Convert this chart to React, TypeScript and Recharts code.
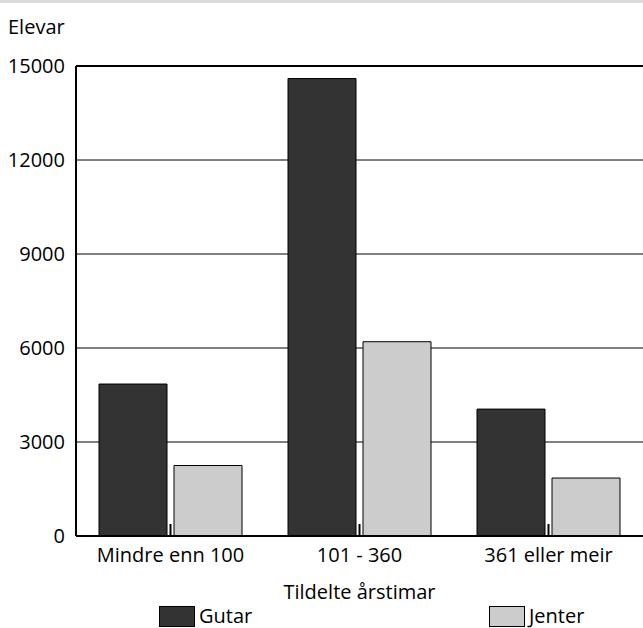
import React from 'react';
import { BarChart, Bar, XAxis, YAxis, CartesianGrid, ReferenceLine } from 'recharts';

const categories = ['Mindre enn 100', '101 - 360', '361 eller meir'];
const gutar = [4850, 14600, 4050];
const jenter = [2250, 6200, 1850];
const yTicks = [0, 3000, 6000, 9000, 12000, 15000];
const seriesNames = ['Gutar', 'Jenter'];
const seriesColors = ['#333333', '#cccccc'];
const yTitle = 'Elevar';
const xTitle = 'Tildelte årstimar';

const data = categories.map((c, i) => ({ name: c, [seriesNames[0]]: gutar[i], [seriesNames[1]]: jenter[i] }));

const FONT = '"Open Sans", sans-serif';
const FS = 20;

const XTick = (props: any) => {
  const { x, y, payload } = props;
  return (
    <g>
      <line x1={x} x2={x} y1={y - 12} y2={y} stroke="#000" strokeWidth={2} />
      <text x={x} y={y + 26} textAnchor="middle" fontFamily={FONT} fontSize={FS} fill="#000">
        {payload.value}
      </text>
    </g>
  );
};

const legendPos = [159, 489];

export default function App() {
  return (
    <div style={{ position: 'absolute', top: 0, left: 0, width: 643, height: 628, background: '#fff', fontFamily: FONT, color: '#000' }}>
      <div style={{ position: 'absolute', top: 0, left: 0, width: 643, height: 3, background: '#dcdcdc' }} />
      <div style={{ position: 'absolute', top: 13, left: 8, fontSize: FS, lineHeight: '28px' }}>{yTitle}</div>
      <BarChart
        width={643}
        height={628}
        data={data}
        margin={{ top: 66, right: 0, left: 0, bottom: 62 }}
        barSize={68}
        barGap={7}
      >
        <CartesianGrid vertical={false} stroke="#000" strokeWidth={1} />
        <XAxis
          dataKey="name"
          height={30}
          tickSize={0}
          tickMargin={0}
          tick={<XTick />}
          axisLine={{ stroke: '#000', strokeWidth: 2 }}
          interval={0}
        />
        <YAxis
          width={76}
          domain={[0, 15000]}
          ticks={yTicks}
          tickLine={false}
          tickSize={0}
          tickMargin={11}
          axisLine={{ stroke: '#000', strokeWidth: 2 }}
          tick={{ fill: '#000', fontSize: FS, fontFamily: FONT }}
        />
        <ReferenceLine y={15000} stroke="#000" strokeWidth={2} />
        {seriesNames.map((s, i) => (
          <Bar key={s} dataKey={s} fill={seriesColors[i]} stroke="#000" strokeWidth={1} isAnimationActive={false} />
        ))}
      </BarChart>
      <div style={{ position: 'absolute', top: 578, left: 76, width: 567, textAlign: 'center', fontSize: FS, lineHeight: '28px' }}>{xTitle}</div>
      {seriesNames.map((s, i) => (
        <div key={s} style={{ position: 'absolute', top: 604, left: legendPos[i], height: 24, display: 'flex', alignItems: 'center' }}>
          <div style={{ width: 36, height: 21, background: seriesColors[i], border: '1px solid #000', boxSizing: 'border-box', marginRight: 4 }} />
          <span style={{ fontSize: FS, lineHeight: '24px' }}>{s}</span>
        </div>
      ))}
    </div>
  );
}
